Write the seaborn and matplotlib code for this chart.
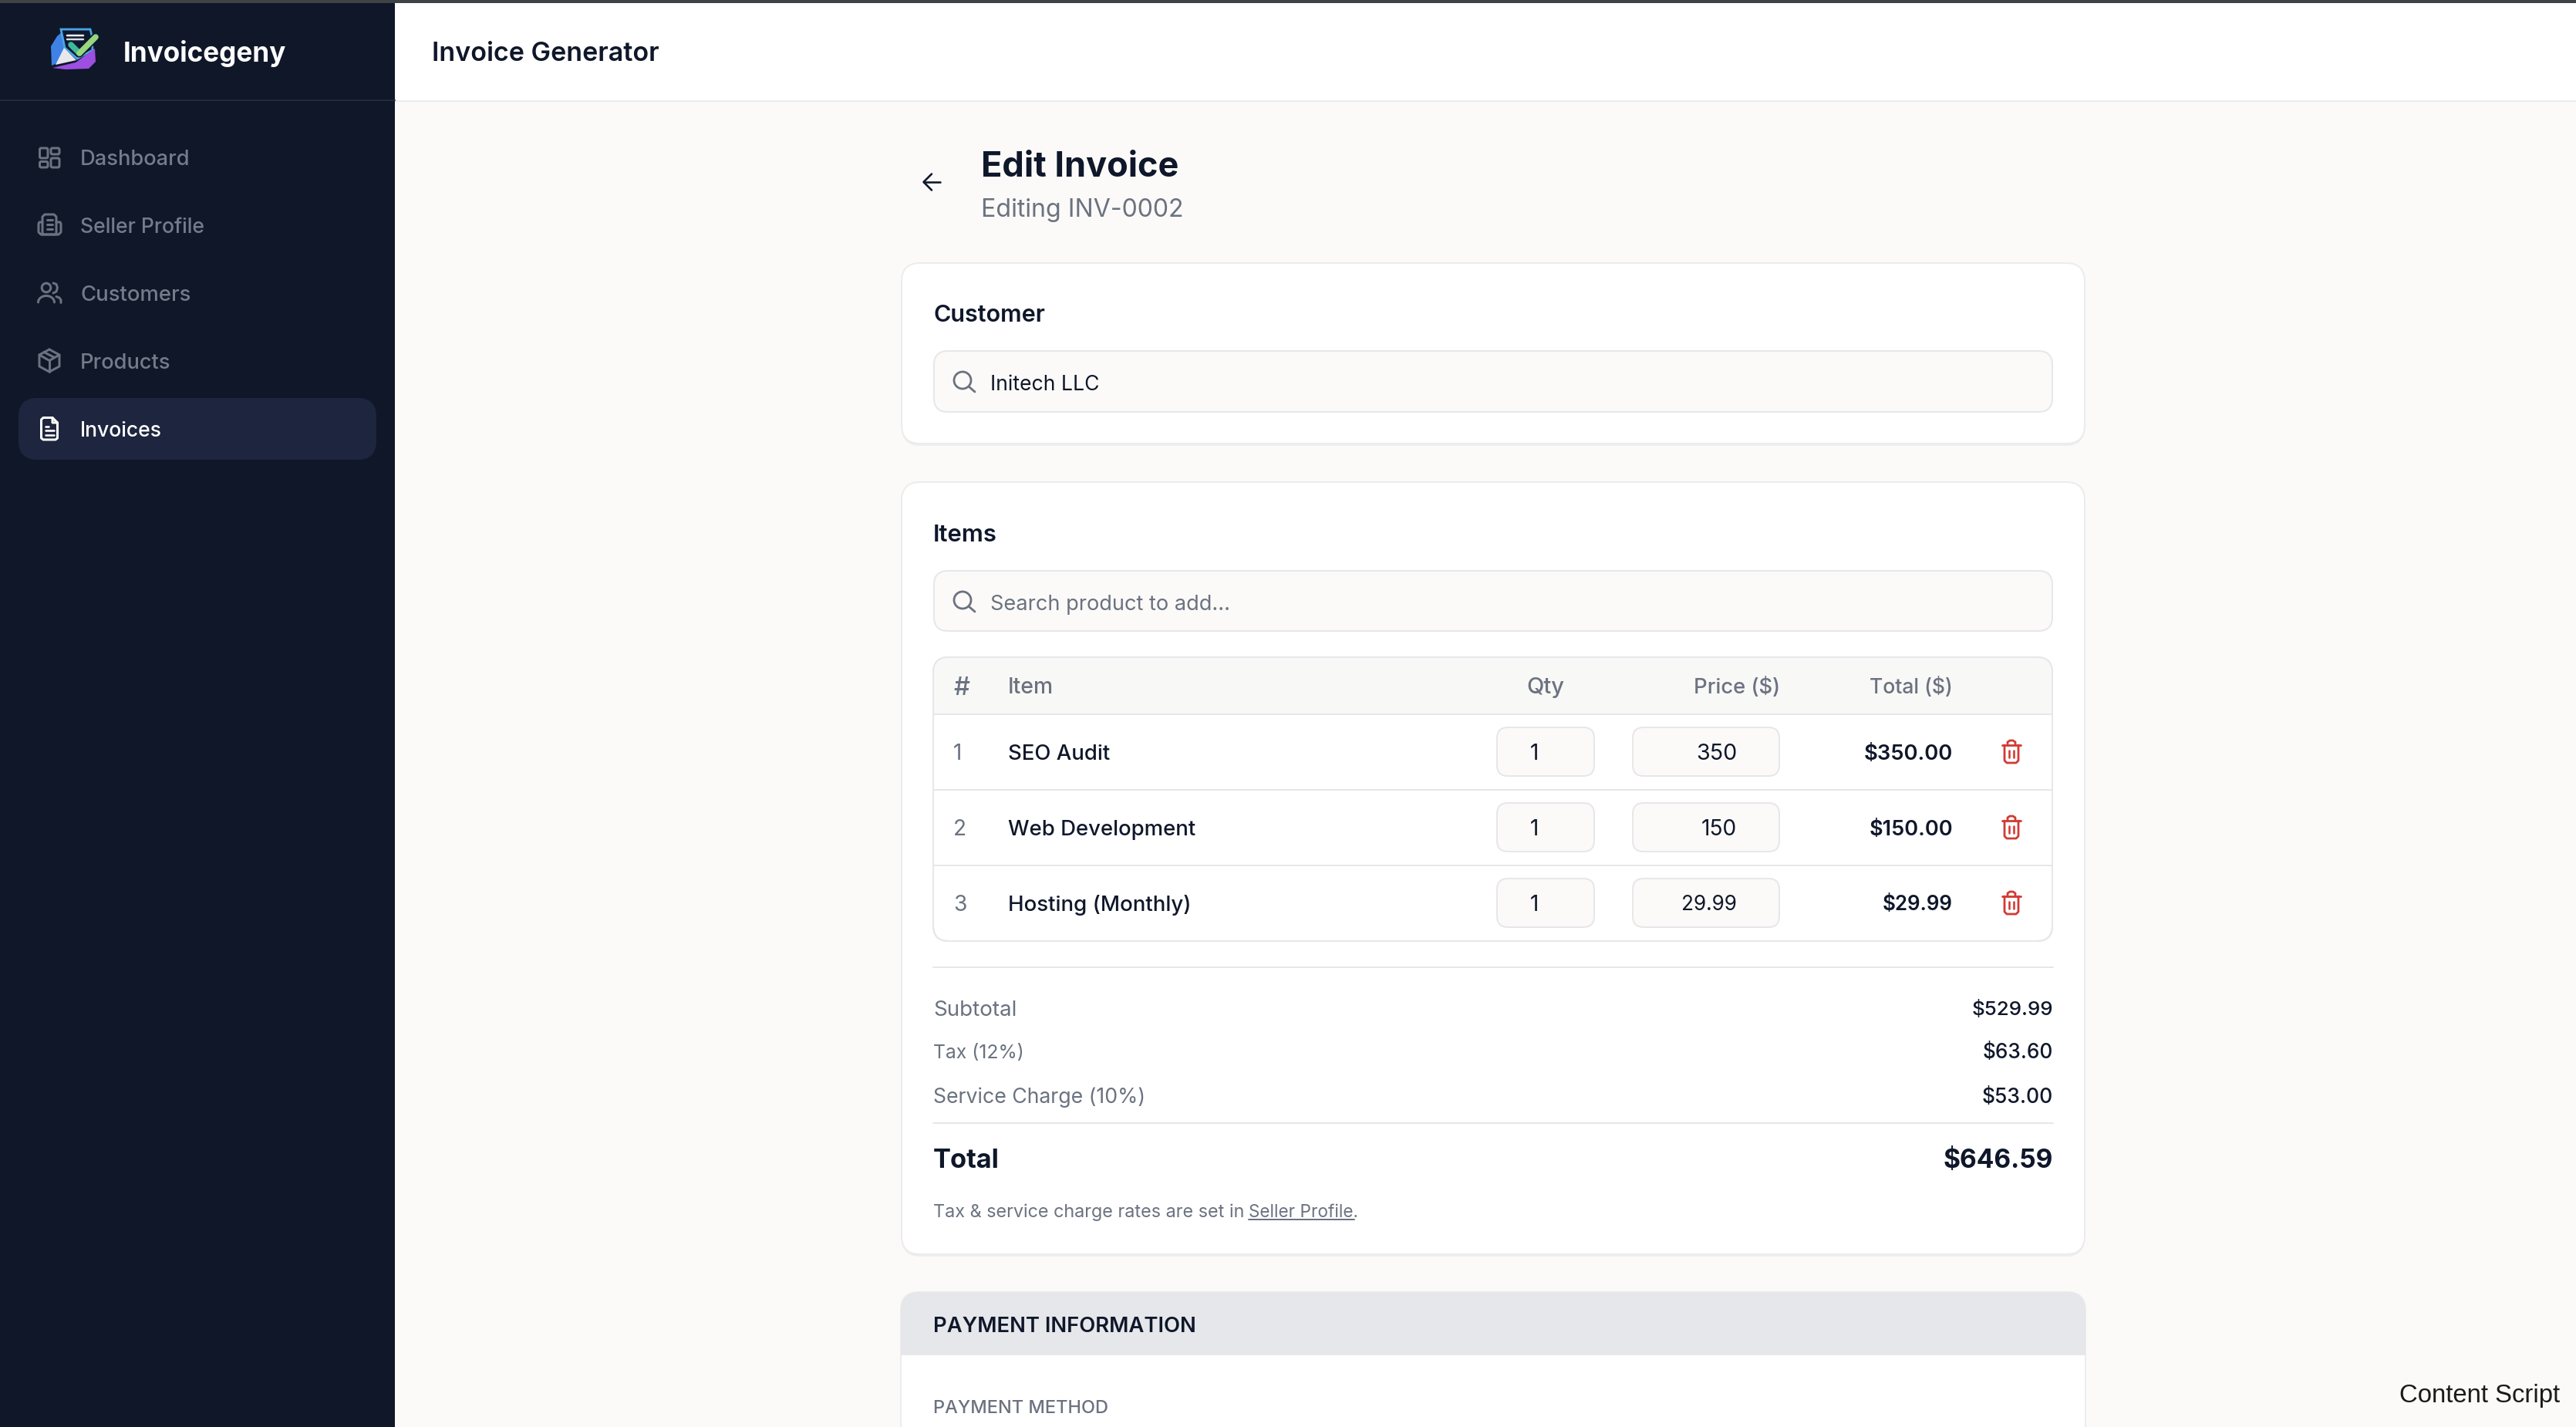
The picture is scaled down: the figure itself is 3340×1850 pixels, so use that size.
import numpy as np
import matplotlib
matplotlib.use("Agg")
import matplotlib.pyplot as plt
from matplotlib.patches import FancyBboxPatch, Rectangle, Polygon, Circle
import seaborn as sns

# ---- content -------------------------------------------------------------
brand = "Invoicegeny"
page_header = "Invoice Generator"
nav_labels = ["Dashboard", "Seller Profile", "Customers", "Products", "Invoices"]
page_title = "Edit Invoice"
page_subtitle = "Editing INV-0002"
customer_title = "Customer"
customer_name = "Initech LLC"
items_title = "Items"
items_placeholder = "Search product to add..."
table_columns = ["#", "Item", "Qty", "Price ($)", "Total ($)"]
item_numbers = ["1", "2", "3"]
item_names = ["SEO Audit", "Web Development", "Hosting (Monthly)"]
item_qty = ["1", "1", "1"]
item_price = ["350", "150", "29.99"]
item_total = ["$350.00", "$150.00", "$29.99"]
summary_labels = ["Subtotal", "Tax (12%)", "Service Charge (10%)"]
summary_values = ["$529.99", "$63.60", "$53.00"]
grand_label = "Total"
grand_value = "$646.59"
note_text = "Tax & service charge rates are set in "
note_link = "Seller Profile"
payment_title = "PAYMENT INFORMATION"
payment_method = "PAYMENT METHOD"
corner_text = "Content Script"

# ---- palette -------------------------------------------------------------
NAVY = "#0f172a"
SIDE = "#0f1729"
PILL = "#1e253e"
PAGE = "#fbfaf8"
LINE = "#e7e7eb"
GREY = "#6b7280"
RED = "#d13b35"
FONT = "Inter"

sns.set_theme(style="white")
plt.rcParams["font.family"] = [FONT, "DejaVu Sans"]

fig = plt.figure(figsize=(33.4, 18.5), dpi=100, facecolor=PAGE)
ax = fig.add_axes([0, 0, 1, 1])
ax.set_xlim(0, 3340)
ax.set_ylim(1850, 0)
ax.axis("off")
sns.despine(ax=ax, left=True, bottom=True)
PT = 0.72  # pixels to points
renderer = fig.canvas.get_renderer()


def box(x0, y0, x1, y1, r=0, fc="white", ec="none", lw=2, z=1, clip=None):
    if r:
        p = FancyBboxPatch((x0, y0), x1 - x0, y1 - y0,
                           boxstyle=f"round,pad=0,rounding_size={r}",
                           fc=fc, ec=ec, lw=lw * PT, zorder=z, mutation_aspect=1)
    else:
        p = Rectangle((x0, y0), x1 - x0, y1 - y0, fc=fc, ec=ec, lw=lw * PT, zorder=z)
    ax.add_patch(p)
    if clip is not None:
        p.set_clip_path(clip)
    return p


def stroke(xs, ys, color, lw=3, z=5):
    ax.plot(xs, ys, color=color, lw=lw * PT, zorder=z,
            solid_capstyle="round", solid_joinstyle="round")


def label(x, yc, s, px, width=None, color=NAVY, weight="normal", ha="left",
          family=None, z=6):
    """Text with caps centred on yc; font size tuned to reach a measured width."""
    t = ax.text(x, yc, s, fontsize=px * PT, color=color, fontweight=weight,
                ha=ha, va="baseline", zorder=z,
                family=family if family else [FONT, "DejaVu Sans"])
    if width:
        w = t.get_window_extent(renderer).width
        px = px * width / w
        t.set_fontsize(px * PT)
    t.set_y(yc + 0.36 * px + 1)
    return t


# ---- chrome --------------------------------------------------------------
box(512, 0, 3340, 130, fc="white", z=1)
stroke([512, 3340], [130.5, 130.5], "#ececee", 2, z=2)
box(0, 0, 512, 1850, fc=SIDE, z=2)
stroke([0, 512], [130, 130], "#1f2a3d", 2, z=3)
box(0, 0, 3340, 3.5, fc="#3f4245", z=4)

# logo
ax.add_patch(Polygon([(74, 47), (82, 40), (117, 38), (118, 46), (84, 46), (83, 64), (74, 82), (67, 85),
                      (66, 60)], fc="#3f82e6", ec="none", zorder=4))
ax.add_patch(Polygon([(79, 38), (117, 38), (119, 46), (120, 65), (100, 76), (84, 62)], fc="#0e1930", ec="#4aa5e8",
                     lw=2, zorder=4))
ax.add_patch(Polygon([(83, 62), (99, 78), (72, 84)], fc="#e8e8ec", ec="none", zorder=5))
ax.add_patch(Polygon([(68, 88), (98, 81), (123, 63), (124, 80), (115, 89), (85, 90)], fc="#9c4fe0", ec="none",
                     zorder=5))
stroke([87, 108], [46, 46], "#f4f4f4", 2.5, z=6)
stroke([87, 108], [51, 51], "#d9dde2", 2.5, z=6)
ax.plot([92, 103, 124], [58, 69, 48], color="#0e1930", lw=11 * PT, zorder=6, solid_capstyle="round")
for a, b, c in [((92, 58), (103, 69), "#3fb89a"), ((103, 69), (124, 48), "#9ad67c")]:
    stroke([a[0], b[0]], [a[1], b[1]], c, 7.5, z=7)
label(160, 66, brand, 36, width=211, color="white", weight="bold")
label(560, 66, page_header, 36, width=295, color=NAVY, weight="semibold")

# sidebar
nav_y = [203.5, 291, 379, 467, 555]
nav_w = [142, 161, 143, 117, 106]
box(24, 516, 488, 596, r=24, fc=PILL, z=3)
for i, s in enumerate(nav_labels):
    label(104, nav_y[i], s, 28, width=nav_w[i],
          color="white" if i == 4 else "#747b8a", weight="medium")

ic = dict(color=GREY, lw=3)
for (x0, y0, x1, y1) in [(51.5, 192, 62, 205), (66, 192, 77, 200), (51.5, 209.5, 62, 217), (66, 205, 77, 217)]:
    box(x0, y0, x1, y1, r=2, fc="none", ec=GREY, lw=3, z=5)
stroke([55, 55, 58, 70, 73, 73, 55], [304, 281, 278, 278, 281, 304, 304], **ic)
stroke([55, 51, 50, 50, 53, 76, 79, 79, 78, 73], [288, 288, 290, 301, 304, 304, 301, 290, 288, 288], **ic)
for yy in (285, 291, 297):
    stroke([60.5, 68], [yy, yy], **ic)
ax.add_patch(Circle((60, 373), 5.8, fc="none", ec=GREY, lw=3 * PT, zorder=5))
t = np.radians(np.linspace(180, 360, 30))
stroke(60 + 10.5 * np.cos(t), 392 + 8.5 * np.sin(t), **ic)
stroke([69, 73, 74.5, 73, 69], [367, 368.5, 373, 378, 380], **ic)
stroke([73, 77, 79, 79], [384.5, 386, 389, 392.5], **ic)
stroke([64, 77, 77, 64, 51, 51, 64], [453, 460, 475, 482, 475, 460, 453], **ic)
stroke([51, 64, 77], [460, 467.5, 460], **ic)
stroke([64, 64], [467.5, 482], **ic)
stroke([57, 70.5], [456.5, 463.5], **ic)
stroke([68, 56, 53.5, 53.5, 56, 72, 74.5, 74.5, 68, 68, 74.5], [541.5, 541.5, 544, 568, 570, 570, 568, 548, 541.5, 548, 548],
       color="white", lw=3)
for yy, xe in ((553, 63), (558, 70), (564, 70)):
    stroke([58.5, xe], [yy, yy], color="white", lw=2.6)

# page heading
stroke([1198, 1219], [236, 236], NAVY, 2.6)
stroke([1208, 1197.5, 1208], [225.5, 236, 246.5], NAVY, 2.6)
label(1272, 212, page_title, 48, width=256, weight="bold")
label(1272, 268, page_subtitle, 32, width=262, color=GREY)


def card(y0, y1):
    box(1169, y0 + 2, 2703, y1 + 3, r=24, fc="#eeeeee", z=1)
    box(1169, y0, 2703, y1, r=24, fc="white", ec="#ececee", lw=2, z=2)


def search(y0, y1, text, color):
    box(1211, y0, 2661, y1, r=18, fc=PAGE, ec=LINE, lw=2, z=3)
    ax.add_patch(Circle((1248, y0 + 38), 11, fc="none", ec=GREY, lw=2.8 * PT, zorder=5))
    stroke([1256.5, 1264], [y0 + 46.5, y0 + 53], GREY, 2.8)
    return label(1284, y0 + 40, text, 28, width=141 if color == NAVY else 310, color=color)


# customer card
card(341, 575)
label(1210, 405, customer_title, 32, width=145, weight="semibold")
search(455, 534, customer_name, NAVY)

# items card
card(625, 1626)
label(1210, 690, items_title, 32, width=83, weight="semibold")
search(740, 818, items_placeholder, GREY)

tbl = box(1210, 852, 2661, 1220, r=20, fc="white", ec=LINE, lw=2, z=3)
box(1210, 852, 2661, 926, fc="#f8f8f6", z=3.5, clip=tbl)
box(1210, 852, 2661, 1220, r=20, fc="none", ec=LINE, lw=2, z=3.6)
for yy in (926, 1024, 1122):
    ax.plot([1210, 2661], [yy, yy], color=LINE, lw=2 * PT, zorder=3.7)

head_x = [1237, 1307, 2004, 2308, 2532]
head_ha = ["left", "left", "center", "right", "right"]
head_w = [21, 59, 49, 112, 108]
for s, x, ha, w in zip(table_columns, head_x, head_ha, head_w):
    label(x, 888, s, 28, width=w, color=GREY, weight="medium", ha=ha)

row_y = [974, 1072, 1170]
name_w = [132, 243, 237]
price_w = [53, 46, 72]
total_w = [115, 108, 91]
for i, yc in enumerate(row_y):
    label(1236, yc, item_numbers[i], 28, color=GREY)
    label(1307, yc, item_names[i], 28, width=name_w[i], weight="medium")
    box(1941, yc - 31, 2067, yc + 32, r=14, fc=PAGE, ec=LINE, lw=2, z=4)
    box(2117, yc - 31, 2307, yc + 32, r=14, fc=PAGE, ec=LINE, lw=2, z=4)
    label(1989, yc, item_qty[i], 28, ha="center")
    label(2252, yc, item_price[i], 28, width=price_w[i], ha="right")
    label(2532, yc, item_total[i], 28, width=total_w[i], weight="semibold", ha="right")
    # trash can
    stroke([2596, 2620], [yc - 8, yc - 8], RED, 2.8)
    stroke([2603, 2603, 2606, 2610, 2613, 2613], [yc - 8, yc - 12, yc - 14, yc - 14, yc - 12, yc - 8], RED, 2.8)
    stroke([2599, 2599, 2602, 2614, 2617, 2617], [yc - 8, yc + 12, yc + 15, yc + 15, yc + 12, yc - 8], RED, 2.8)
    stroke([2605, 2605], [yc - 1, yc + 8], RED, 2.6)
    stroke([2611, 2611], [yc - 1, yc + 8], RED, 2.6)

# totals
ax.plot([1210, 2662], [1254, 1254], color=LINE, lw=2 * PT, zorder=3)
ax.plot([1210, 2662], [1456, 1456], color=LINE, lw=2 * PT, zorder=3)
sum_y = [1306, 1362, 1419]
sum_lw = [108, 118, 275]
sum_vw = [106, 91, 92]
for i, yc in enumerate(sum_y):
    label(1210, yc, summary_labels[i], 28, width=sum_lw[i], color=GREY)
    label(2662, yc, summary_values[i], 28, width=sum_vw[i], ha="right", weight="medium")
label(1210, 1501, grand_label, 36, width=86, weight="bold")
label(2662, 1501, grand_value, 36, width=143, weight="bold", ha="right")
label(1210, 1569, note_text, 24, width=411, color=GREY)
label(1619, 1569, note_link + ".", 24, width=142, color=GREY)
ax.plot([1619, 1756], [1581, 1581], color=GREY, lw=2 * PT, zorder=6)

# payment card
pay = box(1168, 1675, 2704, 1900, r=24, fc="white", ec="#ececee", lw=2, z=2)
box(1168, 1675, 2704, 1757, fc="#e5e7ea", z=2.5, clip=pay)
label(1210, 1716, payment_title, 28, width=340, weight="semibold")
label(1210, 1823, payment_method, 24, width=226, color=GREY, weight="medium")

label(3319, 1805, corner_text, 34, width=209, color="#1a1a1a", ha="right",
      family=["Liberation Sans"])

fig.savefig("out.png", dpi=100, facecolor=PAGE)
